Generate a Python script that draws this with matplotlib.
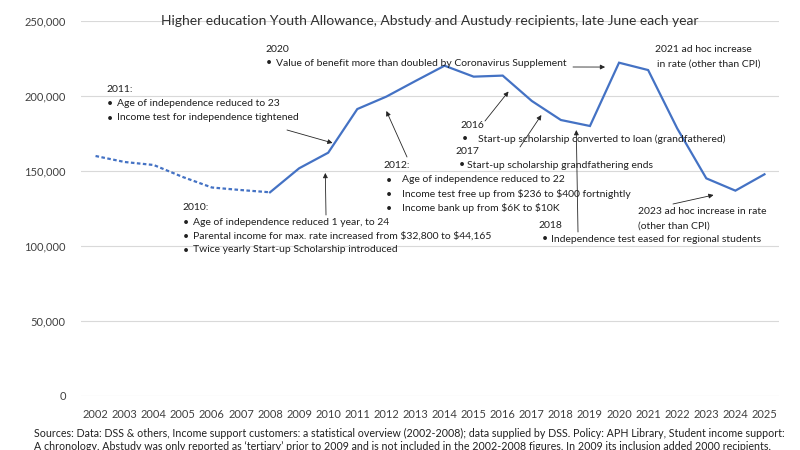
import matplotlib.pyplot as plt
from matplotlib.ticker import FuncFormatter

W, H = 800, 450

years = list(range(2002, 2026))
recipients = [160000, 156000, 154000, 146000, 139000, 137300, 135800, 151800,
              162200, 191300, 199600, 210000, 220200, 212900, 213600, 196700,
              184000, 180000, 222200, 217300, 178400, 145100, 136900, 147800]
last_partial_year = 2008  # Abstudy not counted before 2009 -> dotted

title = "Higher education Youth Allowance, Abstudy and Austudy recipients, late June each year"
footnote = [
    "Sources: Data: DSS & others, Income support customers: a statistical overview (2002-2008); data supplied by DSS. Policy: APH Library, Student income support:",
    "A chronology. Abstudy was only reported as \u2018tertiary\u2019 prior to 2009 and is not included in the 2002-2008 figures. In 2009 its inclusion added 2000 recipients.",
]

# (heading, bullet lines, heading pos, bullet x, text x)
notes = [
    ("2011:", ["Age of independence reduced to 23", "Income test for independence tightened"], (106, 90), 107, 117),
    ("2010:", ["Age of independence reduced 1 year, to 24",
               "Parental income for max. rate increased from $32,800 to $44,165",
               "Twice yearly Start-up Scholarship introduced"], (182, 208), 183, 193),
    ("2012:", ["Age of independence reduced to 22",
               "Income test free up from $236 to $400 fortnightly",
               "Income bank up from $6K to $10K"], (383, 166), 386, 402),
    ("2020", ["Value of benefit more than doubled by Coronavirus Supplement"], (265, 49), 266, 276),
    ("2016", ["Start-up scholarship converted to loan (grandfathered)"], (460, 125), 462, 478),
    ("2017", ["Start-up scholarship grandfathering ends"], (455, 151), 459, 467),
    ("2018", ["Independence test eased for regional students"], (538, 225), 542, 551),
    ("2021 ad hoc increase", [], (655, 49), 0, 0),
    ("2023 ad hoc increase in rate", [], (638, 212), 0, 0),
]
extra_lines = [("in rate (other than CPI)", (657, 64)), ("(other than CPI)", (638, 226))]

# arrow tails in figure pixels, tips in data (year, recipients)
arrows = [
    ((287, 130), (2010.15, 168700)),
    ((326, 215), (2009.9, 148700)),
    ((407, 157), (2012.0, 190000)),
    ((573, 67), (2019.52, 219300)),
    ((485, 121), (2016.2, 203000)),
    ((520, 147), (2017.33, 187300)),
    ((578, 232), (2018.53, 177300)),
    ((673, 204), (2023.25, 134000)),
]


def fpix(x, y):
    return x / W, 1 - y / H


plt.rcParams['font.family'] = ['Lato', 'DejaVu Sans']
plt.rcParams['text.parse_math'] = False
fig = plt.figure(figsize=(W / 100, H / 100), dpi=100)
ax = fig.add_axes([81 / W, 1 - 396 / H, (779 - 81) / W, (396 - 21) / H])

split = years.index(last_partial_year) + 1
blue = '#4472C4'
ax.plot(years[:split], recipients[:split], color=blue, lw=1.6, linestyle=(0, (1.6, 1.1)))
ax.plot(years[split - 1:], recipients[split - 1:], color=blue, lw=1.6, solid_joinstyle='miter')

ax.set_xlim(2001.5, 2025.5)
ax.set_ylim(0, 250000)
ax.set_xticks(years)
ax.set_yticks(range(0, 250001, 50000))
ax.yaxis.set_major_formatter(FuncFormatter(lambda v, p: f"{int(v):,}"))
ax.tick_params(length=0, labelsize=8, colors='#404040', pad=9)
ax.tick_params(axis='y', pad=11)
ax.grid(axis='y', color='#D9D9D9', lw=0.8)
ax.set_axisbelow(True)
for s in ax.spines.values():
    s.set_visible(False)

fig.text(*fpix(430, 21), title, ha='center', va='center', fontsize=10, color='#303030')

txt = dict(fontsize=7.5, color='#202020', va='center')
for head, lines, (hx, hy), bx, tx in notes:
    fig.text(*fpix(hx, hy), head, **txt)
    for i, line in enumerate(lines):
        y = hy + 14 * (i + 1)
        fig.text(*fpix(bx, y), "\u2022", **txt)
        fig.text(*fpix(tx, y), line, **txt)
for line, (lx, ly) in extra_lines:
    fig.text(*fpix(lx, ly), line, **txt)

for tail, tip in arrows:
    ax.annotate('', xy=tip, xycoords='data', xytext=fpix(*tail), textcoords='figure fraction',
                arrowprops=dict(arrowstyle='-|>', color='#262626', lw=0.6,
                                mutation_scale=7, shrinkA=0, shrinkB=0))

for i, line in enumerate(footnote):
    fig.text(*fpix(34, 433 + 13 * i), line, fontsize=7.7, color='#202020', va='center')

fig.savefig('out.png', dpi=100)
